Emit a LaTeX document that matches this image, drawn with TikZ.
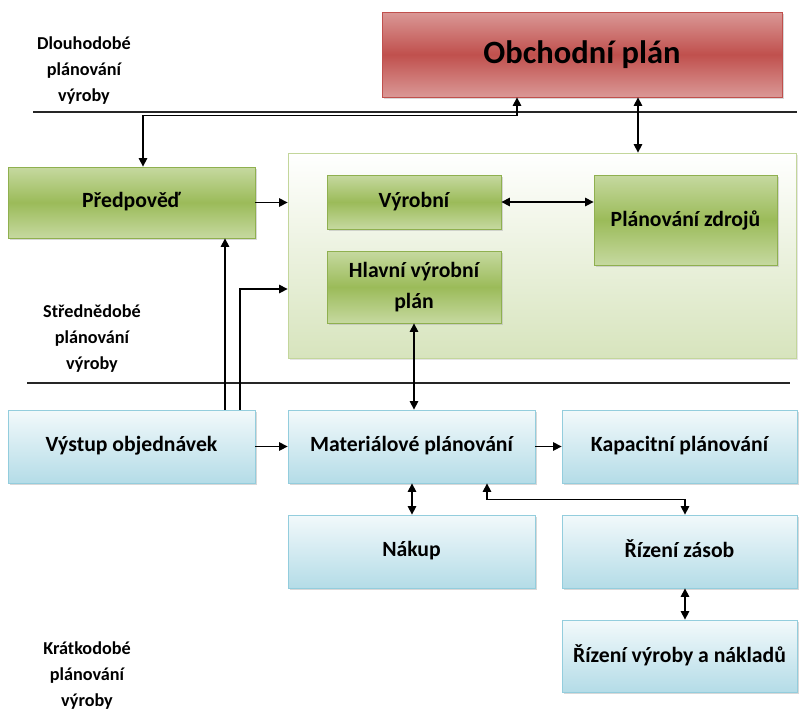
\documentclass[tikz,border=0pt]{standalone}
\usepackage{fontspec}
\setmainfont{Carlito}
\usetikzlibrary{arrows.meta,shadows}
\definecolor{redTop}{HTML}{DA9896}
\definecolor{redMid}{HTML}{C0504D}
\definecolor{redLine}{HTML}{C0504D}
\definecolor{grTop}{HTML}{C6D9A0}
\definecolor{grMid}{HTML}{9BBB59}
\definecolor{grLine}{HTML}{8FB04F}
\definecolor{blTop}{HTML}{F2F9FB}
\definecolor{blBot}{HTML}{B4DCE7}
\definecolor{blLine}{HTML}{93CDDD}
\definecolor{ctBot}{HTML}{D7E4BD}
\definecolor{ctLine}{HTML}{C3D69B}
\tikzset{
  boxbase/.style={rectangle, draw, line width=0.8pt, align=center, inner sep=2pt,
    font=\fontsize{21.7}{31}\selectfont\bfseries,
    drop shadow={shadow xshift=2pt, shadow yshift=-2pt, fill=black!30}},
  redbox/.style={boxbase, draw=redLine, top color=redTop, bottom color=redTop, middle color=redMid},
  greenbox/.style={boxbase, draw=grLine, top color=grTop, bottom color=grTop, middle color=grMid},
  bluebox/.style={boxbase, draw=blLine, top color=blTop, bottom color=blBot},
  contbox/.style={rectangle, draw=ctLine, line width=0.8pt, top color=white, bottom color=ctBot,
    drop shadow={shadow xshift=2pt, shadow yshift=-2pt, fill=black!20}},
  sidelabel/.style={align=center, font=\fontsize{18.2}{26}\selectfont\bfseries},
  divline/.style={line width=1.4pt, black!85},
  arr/.style={line width=1.3pt, -{Triangle[length=8.5pt,width=8.5pt]}},
  dbl/.style={line width=1.3pt, {Triangle[length=8.5pt,width=8.5pt]}-{Triangle[length=8.5pt,width=8.5pt]}}
}
\begin{document}
\begin{tikzpicture}[x=1pt,y=-1pt]
\useasboundingbox (0,0) rectangle (801,716);
% side labels
\node[sidelabel] (lab1) at (84,71) {Dlouhodobé\\plánování\\výroby};
\node[sidelabel] (lab2) at (92,339) {Střednědobé\\plánování\\výroby};
\node[sidelabel] (lab3) at (87,676) {Krátkodobé\\plánování\\výroby};
% dividers
\draw[divline] (33,112) -- (797,112);
\draw[divline] (27,383) -- (790,383);
% boxes
\node[redbox, minimum width=400pt, minimum height=85pt, font=\fontsize{32.5}{38}\selectfont\bfseries] (obch) at (582,54.5) {\raisebox{4pt}{Obchodní plán}};
\node[contbox, minimum width=508pt, minimum height=205pt] (cont) at (542,255.5) {};
\node[greenbox, minimum width=247pt, minimum height=71pt] (pred) at (131.5,202.5) {\raisebox{5pt}{Předpověď}};
\node[greenbox, minimum width=174pt, minimum height=54pt] (vyr) at (414,202) {\raisebox{3pt}{Výrobní}};
\node[greenbox, minimum width=183pt, minimum height=90pt] (pz) at (685.5,220) {Plánování zdrojů};
\node[greenbox, minimum width=174pt, minimum height=72pt] (hvp) at (414,287) {Hlavní výrobní\\plán};
\node[bluebox, minimum width=247pt, minimum height=73pt] (vo) at (131.5,446.5) {\raisebox{5pt}{Výstup objednávek}};
\node[bluebox, minimum width=247pt, minimum height=73pt] (mp) at (411.5,446.5) {\raisebox{5pt}{Materiálové plánování}};
\node[bluebox, minimum width=235pt, minimum height=73pt] (kp) at (679.5,446.5) {\raisebox{5pt}{Kapacitní plánování}};
\node[bluebox, minimum width=247pt, minimum height=73pt] (nak) at (411.5,551.5) {\raisebox{5pt}{Nákup}};
\node[bluebox, minimum width=235pt, minimum height=73pt] (rz) at (679.5,551.5) {\raisebox{5pt}{Řízení zásob}};
\node[bluebox, minimum width=235pt, minimum height=72pt] (rvn) at (679.5,656) {\raisebox{5pt}{Řízení výroby a nákladů}};
% connectors
\draw[dbl] ([xshift=11.5pt]pred.north) -- ++(0,-51) -| ([xshift=-65pt]obch.south);
\draw[dbl] ([xshift=56pt]obch.south) -- ([xshift=56pt]obch.south |- cont.north);
\draw[arr] (pred.east) -- (pred.east -| cont.west);
\draw[dbl] (vyr.east) -- (vyr.east -| pz.west);
\draw[dbl] (hvp.south) -- (hvp.south |- mp.north);
\draw[arr] ([xshift=93.5pt]vo.north) -- ([xshift=93.5pt]vo.north |- pred.south);
\draw[arr] ([xshift=108.5pt]vo.north) |- ([yshift=-33.5pt]cont.west);
\draw[arr] (vo.east) -- (mp.west);
\draw[arr] (mp.east) -- (kp.west);
\draw[dbl] ([xshift=0.5pt]mp.south) -- ([xshift=0.5pt]nak.north);
\draw[dbl] ([xshift=75.5pt]mp.south) -- ++(0,16) -| ([xshift=5.5pt]rz.north);
\draw[dbl] ([xshift=5.5pt]rz.south) -- ([xshift=5.5pt]rvn.north);
\end{tikzpicture}
\end{document}
